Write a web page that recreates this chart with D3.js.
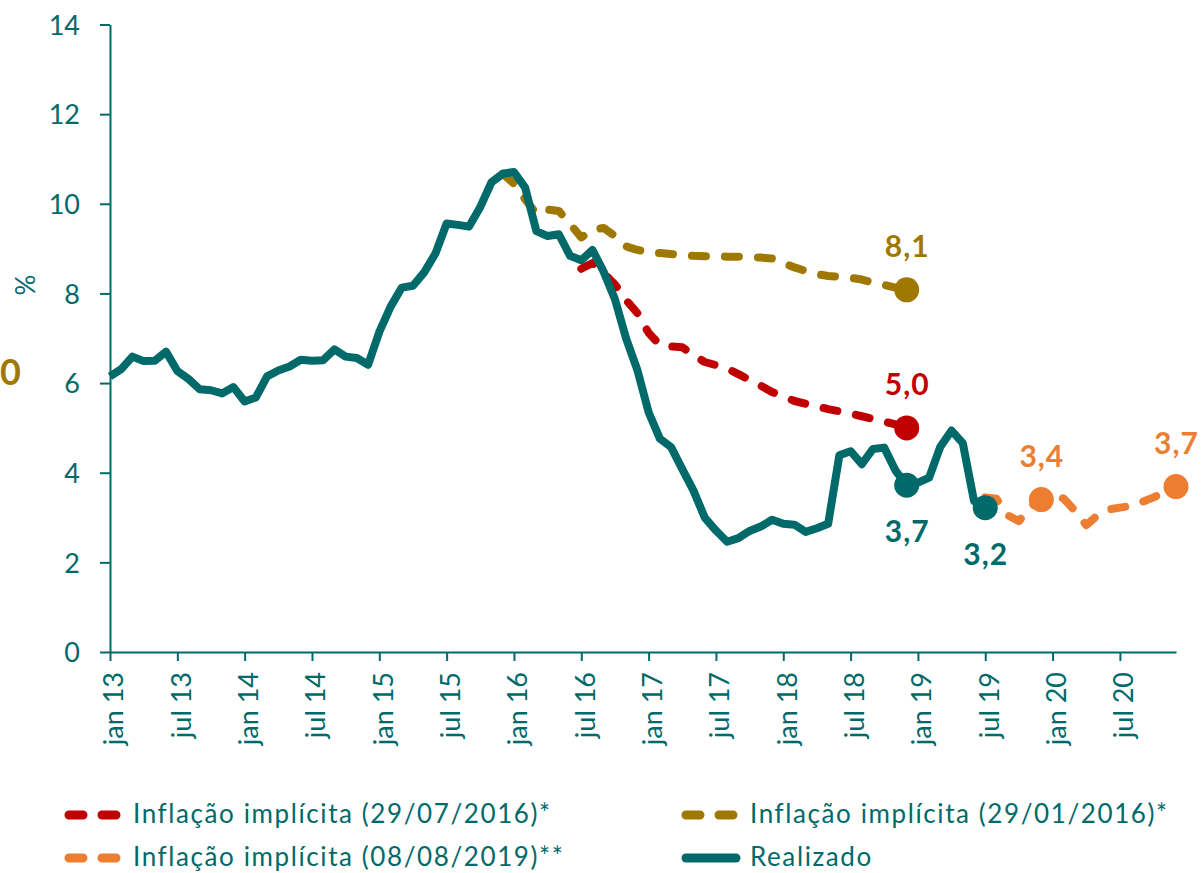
<!DOCTYPE html>
<html>
<head>
<meta charset="utf-8">
<script src="https://cdnjs.cloudflare.com/ajax/libs/d3/7.8.5/d3.min.js"></script>
<style>
  html, body { margin: 0; padding: 0; background: #fff; }
  svg { display: block; font-family: "Lato", sans-serif; }
</style>
</head>
<body>
<div id="chart"></div>
<script>
// Month axis: index 0 = jan 13, last category = dez 20
const monthCount = 96;
const tickMonths = [0, 6, 12, 18, 24, 30, 36, 42, 48, 54, 60, 66, 72, 78, 84, 90];
const tickLabels = ['jan 13', 'jul 13', 'jan 14', 'jul 14', 'jan 15', 'jul 15', 'jan 16', 'jul 16',
                    'jan 17', 'jul 17', 'jan 18', 'jul 18', 'jan 19', 'jul 19', 'jan 20', 'jul 20'];
const yTicks = [0, 2, 4, 6, 8, 10, 12, 14];

// Realizado (12m), jan 13 .. jul 19
const realizadoStart = 0;
const realizado = [
  6.15, 6.31, 6.59, 6.49, 6.50, 6.70, 6.27, 6.09, 5.86, 5.84, 5.77, 5.91,
  5.59, 5.68, 6.15, 6.28, 6.37, 6.52, 6.50, 6.51, 6.75, 6.59, 6.56, 6.41,
  7.14, 7.70, 8.13, 8.17, 8.47, 8.89, 9.56, 9.53, 9.49, 9.93, 10.48, 10.67,
  10.71, 10.36, 9.39, 9.28, 9.32, 8.84, 8.74, 8.97, 8.48, 7.87, 6.99, 6.29,
  5.35, 4.76, 4.57, 4.08, 3.60, 3.00, 2.71, 2.46, 2.54, 2.70, 2.80, 2.95,
  2.86, 2.84, 2.68, 2.76, 2.86, 4.39, 4.48, 4.19, 4.53, 4.56, 4.05, 3.72,
  3.78, 3.89, 4.58, 4.94, 4.66, 3.37, 3.22
];

// Inflação implícita (29/01/2016), dez 15 .. dez 18
const implJan16Start = 35;
const implJan16 = [
  10.67, 10.45, 10.1, 9.78, 9.87, 9.84, 9.55, 9.25, 9.42, 9.46, 9.28, 9.05,
  8.97, 8.92, 8.9, 8.88, 8.86, 8.84, 8.83, 8.83, 8.82, 8.82, 8.81, 8.8,
  8.78, 8.68, 8.58, 8.5, 8.43, 8.39, 8.37, 8.35, 8.31, 8.24, 8.19, 8.13, 8.08
];

// Inflação implícita (29/07/2016), jul 16 .. dez 18
const implJul16Start = 42;
const implJul16 = [
  8.55, 8.68, 8.45, 8.2, 7.85, 7.56, 7.12, 6.85, 6.82, 6.8, 6.62, 6.47,
  6.4, 6.32, 6.2, 6.07, 5.94, 5.8, 5.7, 5.6, 5.54, 5.48, 5.42, 5.37,
  5.32, 5.26, 5.2, 5.14, 5.08, 5.0
];

// Inflação implícita (08/08/2019), jul 19 .. dez 20
const implAug19Start = 78;
const implAug19 = [
  3.45, 3.42, 3.05, 2.92, 3.24, 3.4, 3.52, 3.42, 3.15, 2.83, 3.05, 3.18,
  3.22, 3.26, 3.35, 3.45, 3.57, 3.69
];

const teal = '#00696A';
const gold = '#9E7800';
const red = '#C00000';
const orange = '#ED7D31';

const series = [
  { name: 'Inflação implícita (29/07/2016)*', start: implJul16Start, values: implJul16, color: red, dashed: true },
  { name: 'Inflação implícita (29/01/2016)*', start: implJan16Start, values: implJan16, color: gold, dashed: true },
  { name: 'Inflação implícita (08/08/2019)**', start: implAug19Start, values: implAug19, color: orange, dashed: true },
  { name: 'Realizado', start: realizadoStart, values: realizado, color: teal, dashed: false }
];

// highlighted points: [series index, month index, label above?]
const highlights = [
  [1, 71, true], [0, 71, true], [3, 71, false], [3, 78, false], [2, 83, true], [2, 95, true]
];

const width = 1203, height = 873;
const dash = '14 19';
const lineW = 8;

const x = d3.scaleLinear().domain([0, monthCount - 1]).range([110, 1176]);
const y = d3.scaleLinear().domain([0, 14]).range([652, 24.5]);

const svg = d3.select('#chart')
  .append('svg')
  .attr('width', width)
  .attr('height', height);

svg.append('rect').attr('width', width).attr('height', height).attr('fill', '#fff');

// Axis Y
const yAxis = svg.append('g')
  .attr('transform', 'translate(110,0)')
  .call(d3.axisLeft(y).tickValues(yTicks).tickSize(10).tickSizeOuter(0).tickPadding(20));

// Axis X
const xAxis = svg.append('g')
  .attr('transform', 'translate(0,652)')
  .call(d3.axisBottom(x).tickValues(tickMonths).tickSize(9).tickSizeOuter(0)
          .tickFormat((d, i) => tickLabels[i]));

[xAxis, yAxis].forEach(g => {
  g.select('.domain').attr('stroke', teal).attr('stroke-width', 2);
  g.selectAll('.tick line').attr('stroke', teal).attr('stroke-width', 2);
  g.selectAll('.tick text').attr('fill', teal).style('font-size', '27px').style('font-family', 'Lato');
});
yAxis.selectAll('.tick text').attr('dy', '0.36em');
xAxis.selectAll('.tick text')
  .attr('y', 0)
  .attr('dy', '0.48em')
  .attr('transform', 'translate(0,20) rotate(-90)')
  .attr('text-anchor', 'end');

// y-axis label
svg.append('text')
  .attr('transform', 'translate(26,285) rotate(-90)')
  .attr('text-anchor', 'middle')
  .attr('dy', '0.36em')
  .attr('fill', teal)
  .style('font-size', '26px')
  .text('%');

// label at the left edge
svg.append('text')
  .attr('x', 0)
  .attr('y', 385)
  .attr('fill', gold)
  .style('font-size', '36px')
  .style('font-weight', 'bold')
  .text('0');

// Lines
const line = d3.line()
  .x(d => x(d.m))
  .y(d => y(d.v));

series.forEach(s => {
  const pts = s.values.map((v, i) => ({ m: s.start + i, v: v }));
  svg.append('path')
     .datum(pts)
     .attr('d', line)
     .attr('fill', 'none')
     .attr('stroke', s.color)
     .attr('stroke-width', lineW)
     .attr('stroke-linejoin', 'round')
     .attr('stroke-linecap', s.dashed ? 'round' : 'butt')
     .attr('stroke-dasharray', s.dashed ? dash : null);
});

// Dots and value labels
const fmt = v => v.toFixed(1).replace('.', ',');
highlights.forEach(([si, m, above]) => {
  const s = series[si];
  const v = s.values[m - s.start];
  const cx = x(m), cy = y(v);
  svg.append('circle')
     .attr('cx', cx).attr('cy', cy).attr('r', 12.5)
     .attr('fill', s.color);
  svg.append('text')
     .attr('x', cx + 0.5)
     .attr('y', above ? cy - 33 : cy + 57)
     .attr('text-anchor', 'middle')
     .attr('fill', s.color)
     .style('font-size', '30px')
     .style('font-weight', 'bold')
     .style('letter-spacing', '1px')
     .text(fmt(v));
});

// Legend
const legendPos = [[65, 815], [682, 815], [65, 858], [682, 858]];
series.forEach((s, i) => {
  const [lx, ly] = legendPos[i];
  const g = svg.append('g').attr('transform', `translate(${lx},${ly})`);
  g.append('line')
   .attr('x1', 4).attr('x2', 54)
   .attr('y1', 0).attr('y2', 0)
   .attr('stroke', s.color)
   .attr('stroke-width', 9)
   .attr('stroke-linecap', 'round')
   .attr('stroke-dasharray', s.dashed ? dash : null);
  g.append('text')
   .attr('x', 68)
   .attr('y', 8)
   .attr('fill', teal)
   .style('font-size', '26px')
   .style('letter-spacing', '1.6px')
   .text(s.name);
});
</script>
</body>
</html>
